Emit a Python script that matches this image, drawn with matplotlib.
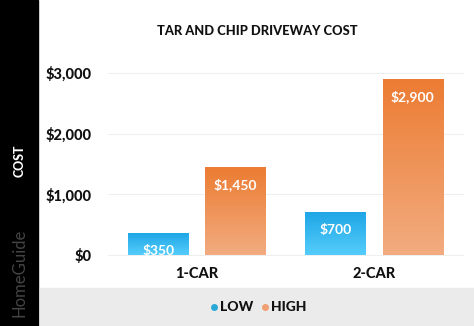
import matplotlib
matplotlib.use('Agg')
import matplotlib.pyplot as plt
from matplotlib.colors import LinearSegmentedColormap
from matplotlib.patches import Rectangle
from matplotlib.lines import Line2D
import numpy as np

categories = ['1-CAR', '2-CAR']
low = [350, 700]
high = [1450, 2900]
yticks = [0, 1000, 2000, 3000]
ytick_labels = ['$0', '$1,000', '$2,000', '$3,000']

plt.rcParams['font.family'] = ['Lato', 'DejaVu Sans']

W, H = 474, 326
fig = plt.figure(figsize=(W / 100, H / 100), dpi=100)
fig.patch.set_facecolor('white')

# black strip on the left and grey legend band
fig.add_artist(Rectangle((0, 0), 38 / W, 1, transform=fig.transFigure, color='black', zorder=0))
fig.add_artist(Rectangle((40 / W, 0), 1, 38 / H, transform=fig.transFigure, color='#EBEBEB', zorder=0))

ax = fig.add_axes([108 / W, 71 / H, 355 / W, 182 / H])
for s in ax.spines.values():
    s.set_visible(False)
ax.set_yticks(yticks)
ax.set_yticklabels(ytick_labels, fontsize=10.5, fontweight='black', color='#111111')
ax.tick_params(axis='y', length=0, pad=11.5)
ax.set_xticks([0, 1])
ax.set_xticklabels(categories, fontsize=10.5, fontweight='black', color='#111111')
ax.tick_params(axis='x', length=0, pad=9)
for t in yticks:
    ax.axhline(t, color='#EFEFEF', lw=0.8, zorder=0, clip_on=False)

x = np.arange(len(categories))
width = 0.34
off = 0.2175

blue = LinearSegmentedColormap.from_list('b', ['#1FA6E6', '#55CDFB'])
orange = LinearSegmentedColormap.from_list('o', ['#EC7C33', '#F2AC80'])
grad = np.linspace(0, 1, 256).reshape(-1, 1)


def draw(xs, vals, cmap):
    bars = ax.bar(xs, vals, width, color='none', zorder=2)
    for b, v in zip(bars, vals):
        x0 = b.get_x()
        ax.imshow(grad, cmap=cmap, aspect='auto', zorder=2,
                  extent=(x0, x0 + b.get_width(), 0, v), interpolation='bicubic')
        ax.annotate('$' + format(v, ','), (x0 + b.get_width() / 2, v),
                    xytext=(0, -8), textcoords='offset points', ha='center', va='top',
                    color='white', fontsize=10, fontweight='bold', zorder=3)


draw(x - off, low, blue)
draw(x + off, high, orange)
ax.set_xlim(-0.5, 1.5)
ax.set_ylim(0, 3000)

fig.text(257 / W, 1 - 31 / H, 'TAR AND CHIP DRIVEWAY COST', ha='center', va='center',
         fontsize=9.3, fontweight='black', color='#111111')
fig.text(20 / W, 1 - 161 / H, 'COST', rotation=90, ha='center', va='center',
         fontsize=9, fontweight='black', color='white')
fig.text(20 / W, 1 - 273 / H, 'HomeGuide', rotation=90, ha='center', va='center',
         fontsize=12, color='#444444')

# legend
ly = 1 - 307 / H
fig.add_artist(Line2D([214 / W], [ly], marker='o', ms=4, color='#29A8D8', lw=0,
                      transform=fig.transFigure))
fig.text(220 / W, ly, 'LOW', ha='left', va='center', fontsize=10, fontweight='black', color='#111111')
fig.add_artist(Line2D([265 / W], [ly], marker='o', ms=4, color='#F0A070', lw=0,
                      transform=fig.transFigure))
fig.text(271 / W, ly, 'HIGH', ha='left', va='center', fontsize=10, fontweight='black', color='#111111')

plt.savefig('out.png', dpi=100)
